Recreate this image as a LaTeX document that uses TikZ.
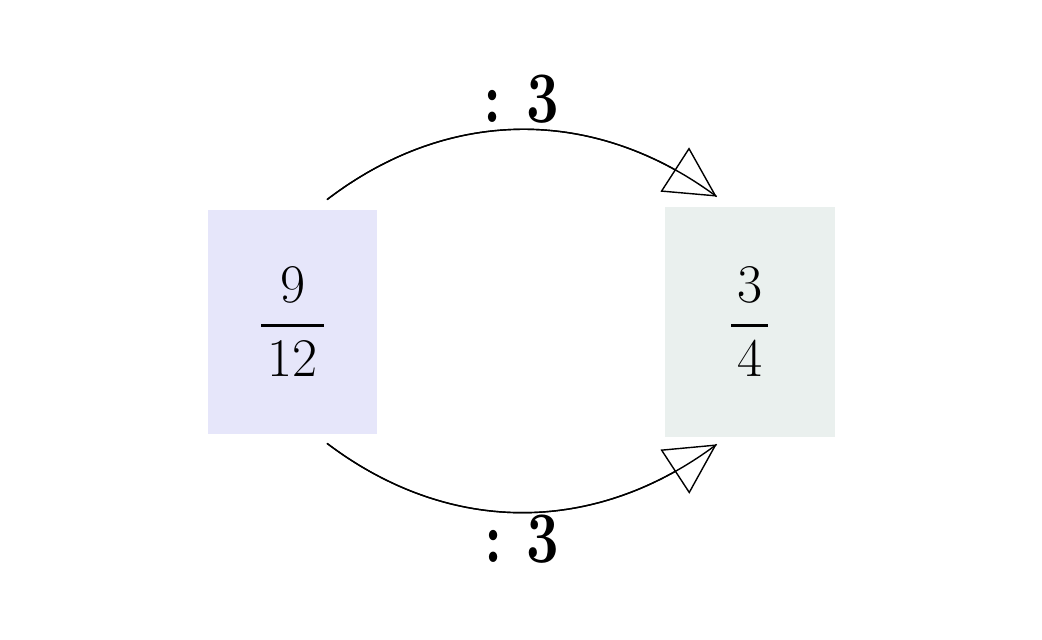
\RequirePackage{fix-cm}
\documentclass[tikz,border=0pt]{standalone}
\usepackage{amsmath}
\usepackage{graphicx}
\usepackage{tikz}
\usetikzlibrary{arrows.meta,bending,positioning}
\definecolor{boxlilac}{RGB}{230,230,250}
\definecolor{boxgrey}{RGB}{234,240,238}
\newcommand{\padfrac}[2]{\genfrac{}{}{2pt}{0}{\kern3.5pt#1\kern3.5pt}{\kern3.5pt#2\kern3.5pt}}
\newcommand{\opthree}{\scalebox{1}[1.25]{:\kern0.42em3}}
\tikzstyle{fracbox} = [rectangle, minimum width=3.38cm, minimum height=4.48cm,
                       font=\fontsize{31}{37}\selectfont]
\tikzstyle{arrow} = [line width=0.8pt,
                     postaction={draw, -{Triangle[open,length=1cm,width=1.05cm]}}]
\tikzstyle{opname} = [font=\fontsize{33}{40}\selectfont\bfseries, inner sep=3pt]

\begin{document}
\begin{tikzpicture}
    \useasboundingbox (0,0) rectangle (20.84,12.8);
    \node [fracbox, fill=boxlilac] (ninetwelfths) at (5.85,6.36) {$\padfrac{9}{12}$};
    \node [fracbox, fill=boxgrey, minimum width=3.4cm, minimum height=4.6cm,
           right=5.74cm of ninetwelfths] (threequarters) {$\padfrac{3}{4}$};

    \draw [arrow] ([shift={(0.69,0.2)}]ninetwelfths.north) to[bend left=37]
        node[opname, above]{\opthree} ([shift={(-0.66,0.2)}]threequarters.north);
    \draw [arrow] ([shift={(0.69,-0.18)}]ninetwelfths.south) to[bend right=37]
        node[opname, below, yshift=0.07cm]{\opthree} ([shift={(-0.66,-0.14)}]threequarters.south);
\end{tikzpicture}
\end{document}
